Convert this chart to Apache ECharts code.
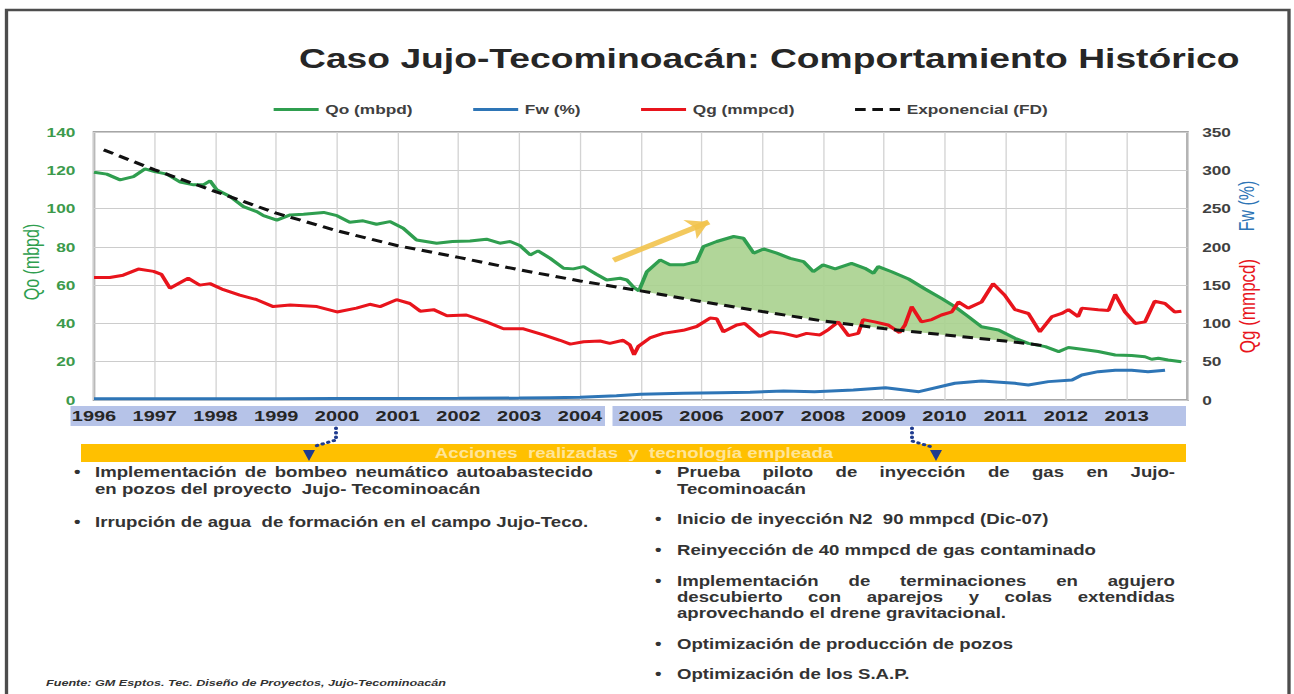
<!DOCTYPE html>
<html>
<head>
<meta charset="utf-8">
<title>Caso Jujo-Tecominoacán</title>
<script src="https://cdn.jsdelivr.net/npm/echarts@6/dist/echarts.min.js"></script>
<style>
html, body { margin: 0; padding: 0; background: #fff; overflow: hidden; }
/* la lamina original viene estirada a lo ancho */
#main { width: 973px; height: 694px; transform: scaleX(1.33); transform-origin: 0 0; }
</style>
</head>
<body>
<div id="main"></div>
<script>
// Qo (mbpd) - eje izquierdo
var qoData = [
    [1996.00, 119], [1996.21, 118], [1996.43, 115], [1996.65, 116.7], [1996.84, 120.7],
    [1997.00, 119.3], [1997.20, 118], [1997.42, 113.8], [1997.64, 112.4], [1997.80, 112.4],
    [1997.91, 114.5], [1998.02, 109.8], [1998.24, 106.3], [1998.46, 101], [1998.68, 98.4],
    [1998.79, 96.3], [1999.01, 94], [1999.23, 96.7], [1999.45, 97], [1999.78, 98],
    [2000.00, 96.3], [2000.21, 92.9], [2000.43, 93.6], [2000.65, 91.8], [2000.87, 93.2],
    [2001.09, 89.7], [2001.31, 83.6], [2001.64, 81.9], [2001.90, 82.8], [2002.19, 83.1],
    [2002.46, 84], [2002.68, 81.9], [2002.85, 82.8], [2003.01, 80.7], [2003.18, 75.8],
    [2003.31, 77.9], [2003.51, 74], [2003.73, 68.8], [2003.89, 68.5], [2004.06, 69.7],
    [2004.27, 65.7], [2004.44, 62.7], [2004.66, 63.6], [2004.77, 62.7], [2004.88, 59],
    [2004.97, 57], [2005.10, 67], [2005.32, 73.2], [2005.48, 70.6], [2005.70, 70.6],
    [2005.92, 72.3], [2006.03, 80.1], [2006.25, 82.8], [2006.53, 85.4], [2006.69, 84.5],
    [2006.86, 76.7], [2007.02, 78.9], [2007.24, 76.7], [2007.46, 74], [2007.68, 72.3],
    [2007.84, 67], [2008.00, 70.6], [2008.20, 68.5], [2008.47, 71.4], [2008.69, 68.8],
    [2008.83, 66.2], [2008.91, 69.7], [2009.13, 67], [2009.41, 63.2], [2009.68, 58],
    [2009.95, 53.1], [2010.17, 48.8], [2010.39, 43.6], [2010.61, 38.3], [2010.89, 36.6],
    [2011.16, 32.2], [2011.38, 29.6], [2011.66, 27.9], [2011.88, 25.3], [2012.04, 27.4],
    [2012.26, 26.5], [2012.53, 25.3], [2012.81, 23.5], [2013.08, 23.2], [2013.30, 22.6],
    [2013.41, 21.3], [2013.52, 21.8], [2013.68, 20.9], [2013.90, 20]
];
// Fw (%) - eje derecho
var fwData = [
    [1996.0, 1.5], [1997.0, 1.5], [1998.0, 1.5], [1999.0, 1.5], [2000.0, 1.8],
    [2001.0, 2], [2002.0, 2.2], [2003.0, 2.5], [2003.5, 3], [2004.0, 3.5],
    [2004.6, 5.7], [2005.0, 7.4], [2005.7, 8.7], [2006.3, 9.5], [2006.8, 10],
    [2007.35, 11.8], [2007.86, 10.9], [2008.5, 13], [2009.03, 16], [2009.58, 10.9],
    [2010.17, 21.8], [2010.61, 24.8], [2011.16, 21.8], [2011.38, 19.6], [2011.71, 24],
    [2012.1, 26], [2012.26, 32.7], [2012.53, 37], [2012.81, 39], [2013.08, 39],
    [2013.35, 37], [2013.63, 39]
];
// Qg (mmpcd) - eje derecho
var qgData = [
    [1996.00, 160], [1996.26, 160], [1996.48, 163], [1996.73, 171], [1996.98, 168],
    [1997.11, 164], [1997.25, 146], [1997.55, 159], [1997.74, 150], [1997.91, 152],
    [1998.13, 144], [1998.40, 137], [1998.68, 131], [1998.95, 122], [1999.23, 124],
    [1999.67, 122], [2000.00, 115], [2000.32, 120], [2000.54, 125], [2000.71, 122],
    [2000.98, 131], [2001.20, 126], [2001.37, 116], [2001.59, 118], [2001.81, 110],
    [2002.13, 111], [2002.46, 102], [2002.74, 93], [2003.07, 93], [2003.40, 85],
    [2003.67, 78], [2003.84, 73], [2004.06, 76], [2004.33, 77], [2004.49, 74],
    [2004.71, 78], [2004.82, 72], [2004.89, 59], [2004.96, 70], [2005.15, 81],
    [2005.37, 87], [2005.70, 91], [2005.92, 96], [2006.14, 107], [2006.25, 106],
    [2006.36, 89], [2006.58, 98], [2006.71, 100], [2006.96, 83], [2007.13, 89],
    [2007.35, 87], [2007.57, 83], [2007.73, 87], [2007.95, 85], [2008.09, 92],
    [2008.25, 102], [2008.42, 84], [2008.58, 87], [2008.66, 105], [2008.85, 102],
    [2009.07, 98], [2009.26, 88], [2009.35, 98], [2009.46, 122], [2009.62, 102],
    [2009.79, 105], [2009.95, 111], [2010.12, 115], [2010.23, 128], [2010.39, 120],
    [2010.61, 128], [2010.80, 152], [2010.99, 137], [2011.16, 118], [2011.38, 113],
    [2011.57, 89], [2011.77, 109], [2011.93, 113], [2012.04, 118], [2012.20, 109],
    [2012.26, 120], [2012.53, 118], [2012.70, 117], [2012.81, 138], [2012.97, 115],
    [2013.14, 100], [2013.30, 102], [2013.46, 129], [2013.63, 126], [2013.79, 115],
    [2013.90, 116]
];
// Exponencial (FD) - eje izquierdo
var expData = [
    [1996.16, 130.7], [1997, 120.2], [1998, 108.9], [1999, 97.6], [2000, 88.4],
    [2001, 80.6], [2002, 74.5], [2003, 68], [2004, 62.2], [2005, 57],
    [2006, 51.4], [2007, 46.2], [2008, 41.3], [2009, 37.3], [2010, 34],
    [2011, 30.8], [2011.66, 28.3]
];
var legendNames = ['Qo (mbpd)', 'Fw (%)', 'Qg (mmpcd)', 'Exponencial (FD)'];
var accionesIzq = [
    'Implementación de bombeo neumático autoabastecido',
    'en pozos del proyecto  Jujo- Tecominoacán',
    'Irrupción de agua  de formación en el campo Jujo-Teco.'
];
var accionesDer = [
    'Prueba piloto de inyección de gas en Jujo-',
    'Tecominoacán',
    'Inicio de inyección N2  90 mmpcd (Dic-07)',
    'Reinyección de 40 mmpcd de gas contaminado',
    'Implementación de terminaciones en agujero',
    'descubierto con aparejos y colas extendidas',
    'aprovechando el drene gravitacional.',
    'Optimización de producción de pozos',
    'Optimización de los S.A.P.'
];

var S = 1.33;
function px(x) {
    return x / S;
}
var FAM = '"Liberation Sans", Arial, sans-serif';
var BODY = 'bold 14px ' + FAM;
var ctx = document.createElement('canvas').getContext('2d');

function txt(str, x, y, font, fill, align) {
    return {
        type: 'text', x: px(x), y: y, z: 10,
        style: { text: str, font: font, fill: fill, align: align || 'left', verticalAlign: 'middle' }
    };
}
// texto justificado palabra por palabra
function justified(str, x0, x1, y) {
    ctx.font = BODY;
    var words = str.split(' ');
    var w = words.map(function (s) { return ctx.measureText(s).width; });
    var total = w.reduce(function (a, b) { return a + b; }, 0);
    var gap = (px(x1) - px(x0) - total) / (words.length - 1);
    var x = px(x0);
    var out = [];
    for (var i = 0; i < words.length; i++) {
        out.push({
            type: 'text', x: x, y: y, z: 10,
            style: { text: words[i], font: BODY, fill: '#333', verticalAlign: 'middle' }
        });
        x += w[i] + gap;
    }
    return out;
}

var graphics = [
    { type: 'rect', shape: { x: px(6.5), y: 10, width: px(1289) - px(6.5), height: 700 },
      style: { fill: 'none', stroke: '#4d4d4d', lineWidth: 2.5 } },
    txt('Caso Jujo-Tecominoacán: Comportamiento Histórico', 299, 58, 'bold 28px ' + FAM, '#262626'),
    // banda de años
    { type: 'rect', z: -10, shape: { x: px(70.5), y: 406, width: px(605) - px(70.5), height: 20 }, style: { fill: '#b6c3e8' } },
    { type: 'rect', z: -10, shape: { x: px(612.5), y: 406, width: px(1186) - px(612.5), height: 20 }, style: { fill: '#b6c3e8' } },
    // banda naranja
    { type: 'rect', shape: { x: px(81), y: 444, width: px(1186) - px(81), height: 18 }, style: { fill: '#ffc000' } },
    txt('Acciones  realizadas  y  tecnología empleada', 634, 453, 'bold 14px ' + FAM, 'rgba(255,255,255,0.6)', 'center'),
    // nombres de ejes
    { type: 'text', x: px(32), y: 262, rotation: Math.PI / 2,
      style: { text: 'Qo (mbpd)', font: '16px ' + FAM, fill: '#2f9e4f', align: 'center', verticalAlign: 'middle' } },
    { type: 'text', x: px(1247), y: 206, rotation: Math.PI / 2,
      style: { text: 'Fw (%)', font: '16px ' + FAM, fill: '#2e75b6', align: 'center', verticalAlign: 'middle' } },
    { type: 'text', x: px(1247), y: 306, rotation: Math.PI / 2,
      style: { text: 'Qg (mmpcd)', font: '17px ' + FAM, fill: '#e8141c', align: 'center', verticalAlign: 'middle' } },
    // conectores punteados
    { type: 'polyline', shape: { points: [[px(336), 428], [px(336), 440], [px(312), 447]] },
      style: { stroke: '#1f3b8f', lineWidth: 3, lineDash: [0.5, 4], lineCap: 'round', fill: null } },
    { type: 'polygon', shape: { points: [[px(303), 450], [px(315), 450], [px(309), 461]] }, style: { fill: '#1f3b8f' } },
    { type: 'polyline', shape: { points: [[px(912), 428], [px(912), 441], [px(932), 447]] },
      style: { stroke: '#1f3b8f', lineWidth: 3, lineDash: [0.5, 4], lineCap: 'round', fill: null } },
    { type: 'polygon', shape: { points: [[px(930), 450], [px(942), 450], [px(936), 461]] }, style: { fill: '#1f3b8f' } },
    txt('Fuente: GM Esptos. Tec. Diseño de Proyectos, Jujo-Tecominoacán', 46, 683, 'italic bold 9.5px ' + FAM, '#333')
];

// columna izquierda
graphics.push(txt('•', 74, 472, BODY, '#333'));
graphics = graphics.concat(justified(accionesIzq[0], 95, 593, 472));
graphics.push(txt(accionesIzq[1], 95, 489, BODY, '#333'));
graphics.push(txt('•', 74, 522, BODY, '#333'));
graphics.push(txt(accionesIzq[2], 95, 522, BODY, '#333'));

// columna derecha
var yDer = [472, 489, 519, 550, 580.5, 597, 613, 644, 674];
var bulletsDer = [0, 2, 3, 4, 7, 8];
var justDer = [0, 4, 5];
for (var i = 0; i < accionesDer.length; i++) {
    if (bulletsDer.indexOf(i) >= 0) graphics.push(txt('•', 655, yDer[i], BODY, '#333'));
    if (justDer.indexOf(i) >= 0) {
        graphics = graphics.concat(justified(accionesDer[i], 677, 1175, yDer[i]));
    } else {
        graphics.push(txt(accionesDer[i], 677, yDer[i], BODY, '#333'));
    }
}

var myChart = echarts.init(document.getElementById('main'), null, { renderer: 'svg' });
var option = {
    animation: false,
    textStyle: { fontFamily: FAM },
    legend: {
        data: legendNames,
        left: px(265),
        top: 98,
        itemWidth: px(45),
        itemHeight: 14,
        itemGap: 44,
        itemStyle: { opacity: 0 },
        lineStyle: { width: 3 },
        textStyle: { fontSize: 13, fontWeight: 'bold', color: '#404040' }
    },
    grid: {
        left: px(94),
        right: 973 - px(1187.5),
        top: 132,
        bottom: 694 - 400,
        show: true,
        borderColor: '#a6a6a6',
        borderWidth: 2
    },
    xAxis: {
        type: 'value',
        min: 1996,
        max: 2014,
        interval: 1,
        axisLine: { show: false },
        axisTick: { show: false },
        splitLine: { show: true, lineStyle: { color: '#d3d3d3' } },
        axisLabel: {
            margin: 8,
            fontSize: 15,
            fontWeight: 'bold',
            color: '#262626',
            formatter: function (v) { return v >= 2014 ? '' : String(v); }
        }
    },
    yAxis: [{
        type: 'value',
        min: 0,
        max: 140,
        interval: 20,
        axisLine: { show: false },
        axisTick: { show: false },
        splitLine: { lineStyle: { color: '#cccccc' } },
        axisLabel: { margin: 14, fontSize: 13, fontWeight: 'bold', color: '#3c9a4c' }
    }, {
        type: 'value',
        min: 0,
        max: 350,
        interval: 50,
        position: 'right',
        axisLine: { show: false },
        axisTick: { show: false },
        splitLine: { show: false },
        axisLabel: { margin: 11, fontSize: 13, fontWeight: 'bold', color: '#404040' }
    }],
    graphic: graphics,
    series: [{
        // area verde entre Qo y la exponencial
        name: 'incremental',
        type: 'custom',
        z: 1,
        silent: true,
        data: [[2005, 57]],
        renderItem: function (params, api) {
            var pts = [];
            qoData.forEach(function (d) {
                if (d[0] >= 2004.97 && d[0] <= 2011.66) pts.push(api.coord(d));
            });
            expData.slice().reverse().forEach(function (d) {
                if (d[0] >= 2005 && d[0] <= 2011.66) pts.push(api.coord(d));
            });
            return { type: 'polygon', shape: { points: pts }, style: { fill: '#a9d18e', opacity: 0.9 } };
        }
    }, {
        name: 'Qo (mbpd)',
        type: 'line',
        data: qoData,
        symbol: 'none',
        z: 3,
        lineStyle: { color: '#2f9e4f', width: 3 },
        itemStyle: { color: '#2f9e4f' },
        markLine: {
            silent: true,
            symbol: ['none', 'arrow'],
            symbolSize: 16,
            label: { show: false },
            lineStyle: { color: '#f2c34c', width: 5, type: 'solid', opacity: 0.9 },
            data: [[{ coord: [2004.55, 73] }, { coord: [2006.12, 93] }]]
        }
    }, {
        name: 'Fw (%)',
        type: 'line',
        yAxisIndex: 1,
        data: fwData,
        symbol: 'none',
        z: 3,
        lineStyle: { color: '#2e75b6', width: 3 },
        itemStyle: { color: '#2e75b6' }
    }, {
        name: 'Qg (mmpcd)',
        type: 'line',
        yAxisIndex: 1,
        data: qgData,
        symbol: 'none',
        z: 3,
        lineStyle: { color: '#e8141c', width: 3 },
        itemStyle: { color: '#e8141c' }
    }, {
        name: 'Exponencial (FD)',
        type: 'line',
        data: expData,
        symbol: 'none',
        z: 4,
        lineStyle: { color: '#111', width: 3, type: [8, 5] },
        itemStyle: { color: '#111' }
    }]
};
myChart.setOption(option);
</script>
</body>
</html>
